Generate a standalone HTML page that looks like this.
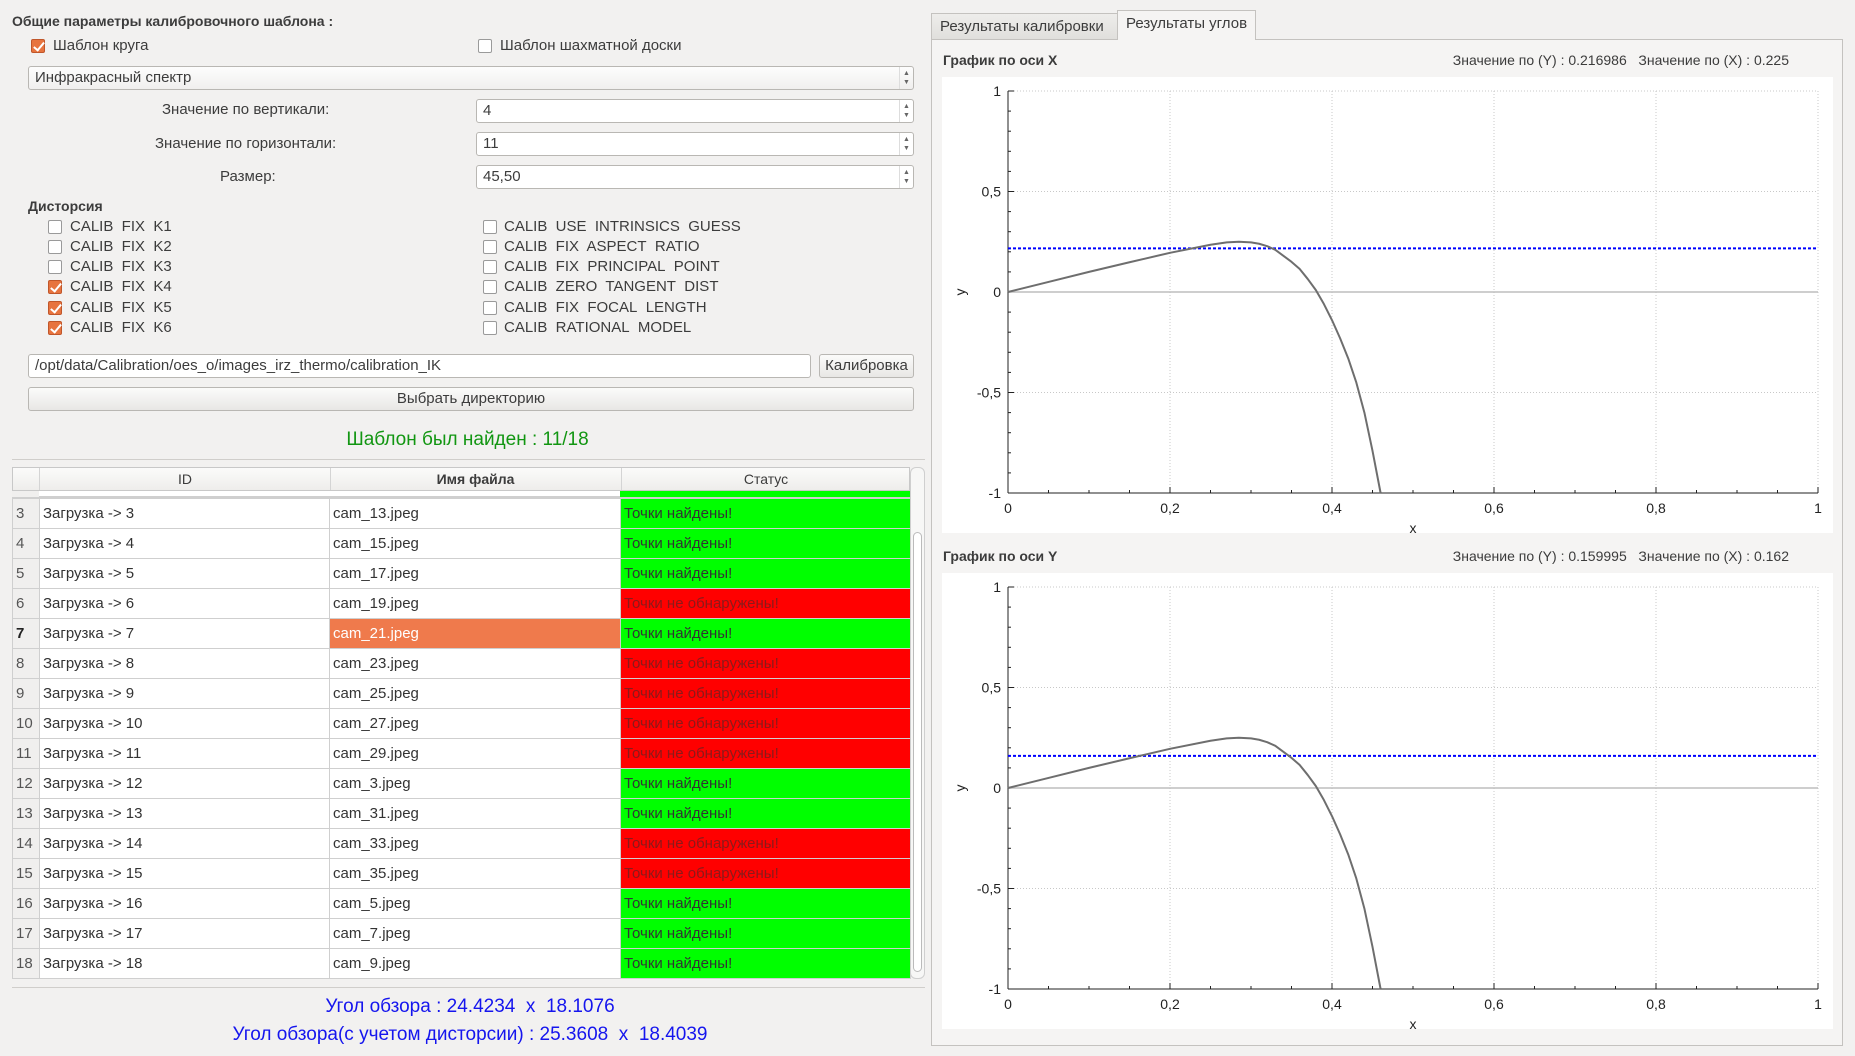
<!DOCTYPE html>
<html><head><meta charset="utf-8">
<style>
*{box-sizing:border-box;margin:0;padding:0}
body{width:1855px;height:1056px;background:#f2f1f0;font-family:"Liberation Sans","DejaVu Sans",sans-serif;font-size:15px;color:#3c3c3c;position:relative;overflow:hidden}
.a{position:absolute;white-space:nowrap}
.cb{position:absolute;width:14px;height:14px;border:1px solid #9a9a9a;border-radius:2px;background:#fff}
.cb.on{background:#e7743f;border-color:#c0562a}
.cb.on::after{content:"";position:absolute;left:4px;top:0px;width:4px;height:9px;border:solid #fff;border-width:0 2px 2px 0;transform:rotate(40deg)}
.inp{position:absolute;background:#fff;border:1px solid #b9b7b3;border-radius:3px;padding-left:6px;line-height:22px}
.btn{position:absolute;background:linear-gradient(#fbfbfa,#e8e7e5);border:1px solid #b9b7b3;border-radius:3px;text-align:center;line-height:22px}
.spin{position:absolute;right:0;top:0;width:14px;height:100%;border-left:1px solid #ddd;font-size:7px;line-height:9px;text-align:center;color:#666;padding-top:2px}
table{border-collapse:collapse;position:absolute;left:12px;top:498px;width:898px;table-layout:fixed}
td{height:30px;border:1px solid #cfcfcf;background:#fff;padding-left:3px;font-size:15px;color:#333;white-space:nowrap;overflow:hidden}
td.n{background:#f0efee;color:#555}
td.g{background:#00ff00}
td.r{background:#ff0000;color:#8a1a1a}
td.sel{background:#ef7a4c;color:#fff}
svg text{white-space:pre}
</style></head><body>
<div class="a" style="left:12px;top:13px;font-weight:bold;font-size:14px">Общие параметры калибровочного шаблона :</div>
<div class="cb on" style="left:31px;top:39px"></div>
<div class="a" style="left:53px;top:37px">Шаблон круга</div>
<div class="cb" style="left:478px;top:39px"></div>
<div class="a" style="left:500px;top:37px">Шаблон шахматной доски</div>
<div class="inp" style="left:28px;top:66px;width:886px;height:24px;background:linear-gradient(#fdfdfd,#f0efee)">Инфракрасный спектр<div class="spin">▲<br>▼</div></div>
<div class="a" style="left:162px;top:101px">Значение по вертикали:</div>
<div class="inp" style="left:476px;top:99px;width:438px;height:24px">4<div class="spin">▲<br>▼</div></div>
<div class="a" style="left:155px;top:135px">Значение по горизонтали:</div>
<div class="inp" style="left:476px;top:132px;width:438px;height:24px">11<div class="spin">▲<br>▼</div></div>
<div class="a" style="left:220px;top:168px">Размер:</div>
<div class="inp" style="left:476px;top:165px;width:438px;height:24px">45,50<div class="spin">▲<br>▼</div></div>
<div class="a" style="left:28px;top:198px;font-weight:bold;font-size:14px">Дисторсия</div>

<div class="cb" style="left:48px;top:220px"></div><div class="a" style="left:70px;top:218px">CALIB&nbsp; FIX&nbsp; K1</div>
<div class="cb" style="left:48px;top:240px"></div><div class="a" style="left:70px;top:238px">CALIB&nbsp; FIX&nbsp; K2</div>
<div class="cb" style="left:48px;top:260px"></div><div class="a" style="left:70px;top:258px">CALIB&nbsp; FIX&nbsp; K3</div>
<div class="cb on" style="left:48px;top:280px"></div><div class="a" style="left:70px;top:278px">CALIB&nbsp; FIX&nbsp; K4</div>
<div class="cb on" style="left:48px;top:301px"></div><div class="a" style="left:70px;top:299px">CALIB&nbsp; FIX&nbsp; K5</div>
<div class="cb on" style="left:48px;top:321px"></div><div class="a" style="left:70px;top:319px">CALIB&nbsp; FIX&nbsp; K6</div>

<div class="cb" style="left:483px;top:220px"></div><div class="a" style="left:504px;top:218px">CALIB&nbsp; USE&nbsp; INTRINSICS&nbsp; GUESS</div>
<div class="cb" style="left:483px;top:240px"></div><div class="a" style="left:504px;top:238px">CALIB&nbsp; FIX&nbsp; ASPECT&nbsp; RATIO</div>
<div class="cb" style="left:483px;top:260px"></div><div class="a" style="left:504px;top:258px">CALIB&nbsp; FIX&nbsp; PRINCIPAL&nbsp; POINT</div>
<div class="cb" style="left:483px;top:280px"></div><div class="a" style="left:504px;top:278px">CALIB&nbsp; ZERO&nbsp; TANGENT&nbsp; DIST</div>
<div class="cb" style="left:483px;top:301px"></div><div class="a" style="left:504px;top:299px">CALIB&nbsp; FIX&nbsp; FOCAL&nbsp; LENGTH</div>
<div class="cb" style="left:483px;top:321px"></div><div class="a" style="left:504px;top:319px">CALIB&nbsp; RATIONAL&nbsp; MODEL</div>

<div class="inp" style="left:28px;top:354px;width:783px;height:24px">/opt/data/Calibration/oes_o/images_irz_thermo/calibration_IK</div>
<div class="btn" style="left:819px;top:354px;width:95px;height:24px">Калибровка</div>
<div class="btn" style="left:28px;top:387px;width:886px;height:24px">Выбрать директорию</div>
<div class="a" style="left:0;width:935px;text-align:center;top:429px;color:#129612;font-size:19px">Шаблон был найден : 11/18</div>
<div class="a" style="left:12px;top:459px;width:913px;height:1px;background:#d0cecb"></div>

<div class="a" style="left:12px;top:467px;width:898px;height:24px;background:linear-gradient(#fbfbfa,#eeedeb);border:1px solid #c8c8c8">
<div class="a" style="left:0;top:0;width:27px;height:22px;border-right:1px solid #d4d4d4"></div>
<div class="a" style="left:27px;width:290px;top:3px;text-align:center;font-size:14px">ID</div>
<div class="a" style="left:317px;top:0;width:1px;height:22px;background:#d4d4d4"></div>
<div class="a" style="left:317px;width:291px;top:3px;text-align:center;font-weight:bold;font-size:14px">Имя файла</div>
<div class="a" style="left:608px;top:0;width:1px;height:22px;background:#d4d4d4"></div>
<div class="a" style="left:608px;width:290px;top:3px;text-align:center;font-size:14px">Статус</div>
</div>
<div class="a" style="left:12px;top:491px;width:898px;height:7px;background:#fff;border-bottom:2px solid #cfcfcf"><div class="a" style="left:0;top:0;width:27px;height:6px;background:#f0efee"></div><div class="a" style="left:608px;top:0;width:290px;height:6px;background:#00ff00"></div></div>
<table>
<colgroup><col style="width:27px"><col style="width:290px"><col style="width:291px"><col style="width:290px"></colgroup>
<tbody id="tb"></tbody></table>
<div class="a" style="left:910px;top:467px;width:15px;height:512px;background:#f7f7f6;border:1px solid #cfcfcf;border-radius:6px"><div class="a" style="left:2px;top:64px;width:9px;height:440px;border:1px solid #bbb;border-radius:5px;background:#fff"></div></div>
<div class="a" style="left:12px;top:987px;width:913px;height:1px;background:#d0cecb"></div>
<div class="a" style="left:0;width:940px;text-align:center;top:996px;color:#1515ee;font-size:19px">Угол обзора : 24.4234&nbsp; x&nbsp; 18.1076</div>
<div class="a" style="left:0;width:940px;text-align:center;top:1024px;color:#1515ee;font-size:19px">Угол обзора(с учетом дисторсии) : 25.3608&nbsp; x&nbsp; 18.4039</div>

<div class="a" style="left:931px;top:39px;width:912px;height:1007px;border:1px solid #c4c2bf;background:#f5f4f3"></div>
<div class="a" style="left:931px;top:13px;width:187px;height:27px;border:1px solid #c4c2bf;background:linear-gradient(#eeedeb,#e0dfdc);line-height:25px;padding-left:8px;font-size:15px">Результаты калибровки</div>
<div class="a" style="left:1117px;top:10px;width:139px;height:30px;border:1px solid #c4c2bf;border-bottom:none;background:#f5f4f3;line-height:26px;padding-left:8px;font-size:15px">Результаты углов</div>

<svg id="svg" class="a" style="left:0;top:0" width="1855" height="1056"></svg>

<script>
// ---- table data ----
const rowIds=[3,4,5,6,7,8,9,10,11,12,13,14,15,16,17,18];
const fileNames=["cam_13.jpeg","cam_15.jpeg","cam_17.jpeg","cam_19.jpeg","cam_21.jpeg","cam_23.jpeg","cam_25.jpeg","cam_27.jpeg","cam_29.jpeg","cam_3.jpeg","cam_31.jpeg","cam_33.jpeg","cam_35.jpeg","cam_5.jpeg","cam_7.jpeg","cam_9.jpeg"];
const found=[1,1,1,0,1,0,0,0,0,1,1,0,0,1,1,1];
const tb=document.getElementById('tb');
rowIds.forEach((id,i)=>{
  const tr=document.createElement('tr');
  
  
  const sel=id===7;
  tr.innerHTML='<td class="n"'+(sel?' style="font-weight:bold;color:#222"':'')+'>'+id+'</td><td>Загрузка -&gt; '+id+'</td><td'+(sel?' class="sel"':'')+'>'+fileNames[i]+'</td><td class="'+(found[i]?'g':'r')+'">'+(found[i]?'Точки найдены!':'Точки не обнаружены!')+'</td>';
  tb.appendChild(tr);
});

// ---- chart data ----
const curveX=[0,0.05,0.1,0.15,0.2,0.25,0.27,0.285,0.3,0.31,0.32,0.33,0.34,0.35,0.36,0.37,0.38,0.39,0.4,0.41,0.42,0.43,0.44,0.45,0.46];
const curveY=[0,0.05,0.1,0.148,0.195,0.235,0.247,0.25,0.247,0.24,0.228,0.21,0.18,0.15,0.115,0.065,0.01,-0.06,-0.14,-0.23,-0.33,-0.45,-0.6,-0.79,-1.0];
const refValueX=0.216986;
const refValueY=0.159995;
const xTicks=[0,0.2,0.4,0.6,0.8,1];
const xTickLabels=["0","0,2","0,4","0,6","0,8","1"];
const yTicks=[-1,-0.5,0,0.5,1];
const yTickLabels=["-1","-0,5","0","0,5","1"];

const NS='http://www.w3.org/2000/svg';
const svg=document.getElementById('svg');
function el(tag,attrs,parent){const e=document.createElementNS(NS,tag);for(const k in attrs)e.setAttribute(k,attrs[k]);(parent||svg).appendChild(e);return e;}

function drawChart(prefix,top,title,refVal,refX){
  const L=1008,R=1818,T=top,B=top+402;
  const sx=v=>L+(R-L)*v;
  const sy=v=>T+(B-T)*(1-v)/2;
  const g=el('g',{});
  
  
  const t=el('text',{x:943,y:top-26,'font-size':14,'font-weight':'bold',fill:'#3c3c3c','font-family':'Liberation Sans, sans-serif'},g);
  t.textContent=title;
  
  
  const v=el('text',{x:1789,y:top-26,'font-size':14,'text-anchor':'end',fill:'#3c3c3c','font-family':'Liberation Sans, sans-serif'},g);
  v.textContent='Значение по (Y) : '+refVal+'   Значение по (X) : '+refX;
  
  
  const bg=el('rect',{x:942,y:top-14,width:891,height:456,fill:'#ffffff'},g);
  
  
  xTicks.forEach((x,i)=>{
    if(x>0){const gl=el('line',{x1:sx(x),x2:sx(x),y1:T,y2:B,stroke:'#c8c8c8','stroke-dasharray':'1,2'},g);
      }
    const tl=el('text',{x:sx(x),y:B+20,'font-size':14,'text-anchor':'middle',fill:'#222','font-family':'Liberation Sans, sans-serif'},g);
    tl.textContent=xTickLabels[i];
    
  });
  for(let k=0;k<=20;k++){el('line',{x1:sx(k/20),x2:sx(k/20),y1:B,y2:B-(k%4===0?6:3),stroke:'#222'},g);}
  yTicks.forEach((y,i)=>{
    if(y!==-1&&y!==0){const gl=el('line',{x1:L,x2:R,y1:sy(y),y2:sy(y),stroke:'#c8c8c8','stroke-dasharray':'1,2'},g);
      }
    const tl=el('text',{x:L-7,y:sy(y)+5,'font-size':14,'text-anchor':'end',fill:'#222','font-family':'Liberation Sans, sans-serif'},g);
    tl.textContent=yTickLabels[i];
    
  });
  for(let k=0;k<=20;k++){el('line',{x1:L,x2:L+(k%5===0?6:3),y1:sy(-1+k/10),y2:sy(-1+k/10),stroke:'#222'},g);}
  const z=el('line',{x1:L,x2:R,y1:sy(0),y2:sy(0),stroke:'#bdbdbd','stroke-width':1.5},g);
  
  el('line',{x1:L,x2:L,y1:T,y2:B,stroke:'#222'},g);
  el('line',{x1:L,x2:R,y1:B,y2:B,stroke:'#222'},g);
  const xl=el('text',{x:(L+R)/2,y:B+40,'font-size':14,'text-anchor':'middle',fill:'#222','font-family':'Liberation Sans, sans-serif'},g);
  xl.textContent='x';
  const yl=el('text',{x:0,y:0,'font-size':14,'text-anchor':'middle',fill:'#222',transform:'translate('+(L-43)+','+sy(0)+') rotate(-90)','font-family':'Liberation Sans, sans-serif'},g);
  yl.textContent='y';
  const ref=el('line',{x1:L,x2:R,y1:sy(refVal),y2:sy(refVal),stroke:'#0000ff','stroke-width':2,'stroke-dasharray':'3,2'},g);
  
  const pts=curveX.map((x,i)=>sx(x)+','+sy(curveY[i])).join(' ');
  const c=el('polyline',{points:pts,fill:'none',stroke:'#6e6e6e','stroke-width':2,'stroke-linejoin':'round'},g);
  
}
drawChart('x-axis',91,'График по оси X',refValueX,'0.225');
drawChart('y-axis',587,'График по оси Y',refValueY,'0.162');
</script>
</body></html>
